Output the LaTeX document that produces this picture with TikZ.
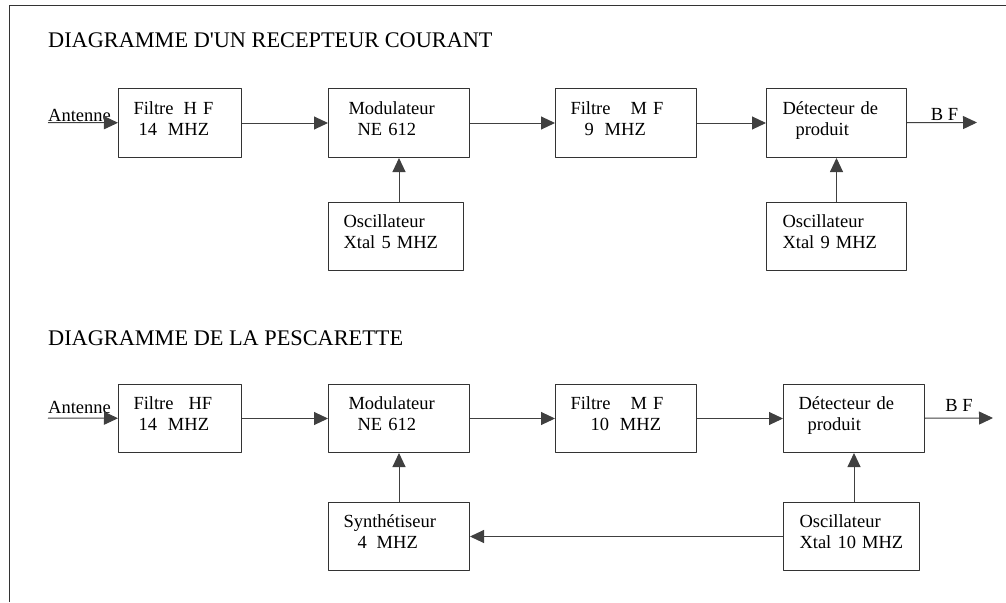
\documentclass[tikz,border=0pt]{standalone}
\usepackage{fontspec}
\setmainfont{Liberation Serif}
\usetikzlibrary{arrows.meta}
\tikzset{
  bloc/.style={draw=black!80, line width=1pt, anchor=north west, inner xsep=15pt, inner ysep=2pt, text depth=30pt, align=left, font=\fontsize{18.5}{21}\selectfont},
  fleche/.style={draw=black!75, line width=1pt, -{Triangle[length=14pt,width=13pt]}},
  titre/.style={anchor=base west, inner sep=0pt, font=\fontsize{22.3}{26}\selectfont},
  etiq/.style={inner sep=0pt, font=\fontsize{18.5}{21}\selectfont},
}
\begin{document}
\begin{tikzpicture}[x=1pt, y=-1pt, line join=round]
	\useasboundingbox (0,0) rectangle (1006,602);
	\draw[black!80, line width=1pt] (9,602) -- (9,6) -- (1006,6);
	% titres
	\node[titre] (titreA) at (48,48) {DIAGRAMME D\textquotesingle UN RECEPTEUR COURANT};
	\node[titre] (titreB) at (48,345) {DIAGRAMME DE LA PESCARETTE};
	% recepteur courant
	\node[bloc, minimum height=69pt, text width=93pt] (hfA) at (118,88) {Filtre\hspace{10pt}H F\\\hspace*{5pt}14\hspace{11pt}MHZ};
	\node[bloc, minimum height=69pt, text width=111pt] (modA) at (328,88) {\hspace*{5pt}Modulateur\\\hspace*{14pt}NE 612};
	\node[bloc, minimum height=69pt, text width=111pt] (mfA) at (555,88) {Filtre\hspace{20pt}M F\\\hspace*{14pt}9\hspace{11pt}MHZ};
	\node[bloc, minimum height=69pt, text width=110pt] (detA) at (766,88) {\hspace*{1pt}Détecteur de\\\hspace*{14pt}produit};
	\node[bloc, minimum height=68pt, text width=105pt] (oscA) at (328,202) {Oscillateur\\Xtal 5 MHZ};
	\node[bloc, minimum height=68pt, text width=110pt] (osc9A) at (766,202) {\hspace*{1pt}Oscillateur\\\hspace*{1pt}Xtal 9 MHZ};
	\coordinate (antA) at (48,122.5);
	\coordinate (bfA) at (977,122.5);
	\node[etiq, anchor=base west, yshift=1pt] (antenneA) at (antA) {Antenne};
	\draw[fleche] (antA) -- (hfA);
	\draw[fleche] (hfA) -- (modA);
	\draw[fleche] (modA) -- (mfA);
	\draw[fleche] (mfA) -- (detA);
	\draw[fleche] (detA) -- (bfA) node[etiq, pos=0.535, above=2pt] (bfTxtA) {B F};
	\draw[fleche] (oscA.north -| modA.south) -- (modA.south);
	\draw[fleche] (osc9A.north -| detA.south) -- (detA.south);
	% pescarette
	\node[bloc, minimum height=68pt, text width=93pt] (hfB) at (118,384) {Filtre\hspace{15pt}HF\\\hspace*{5pt}14\hspace{11pt}MHZ};
	\node[bloc, minimum height=68pt, text width=111pt] (modB) at (328,384) {\hspace*{5pt}Modulateur\\\hspace*{14pt}NE 612};
	\node[bloc, minimum height=68pt, text width=111pt] (mfB) at (555,384) {Filtre\hspace{20pt}M F\\\hspace*{20pt}10\hspace{11pt}MHZ};
	\node[bloc, minimum height=68pt, text width=111pt] (detB) at (783,384) {Détecteur de\\\hspace*{9pt}produit};
	\node[bloc, minimum height=68pt, text width=111pt] (synB) at (328,502) {Synthétiseur\\\hspace*{14pt}4\hspace{10pt}MHZ};
	\node[bloc, minimum height=68pt, text width=106pt] (oscB) at (783,502) {\hspace*{1pt}Oscillateur\\\hspace*{1pt}Xtal 10 MHZ};
	\coordinate (antB) at (48,418);
	\coordinate (bfB) at (993,418);
	\node[etiq, anchor=base west, yshift=5pt] (antenneB) at (antB) {Antenne};
	\draw[fleche] (antB) -- (hfB);
	\draw[fleche] (hfB) -- (modB);
	\draw[fleche] (modB) -- (mfB);
	\draw[fleche] (mfB) -- (detB);
	\draw[fleche] (detB) -- (bfB) node[etiq, pos=0.5, above=6pt] (bfTxtB) {B F};
	\draw[fleche] (synB.north -| modB.south) -- (modB.south);
	\draw[fleche] (oscB.north -| detB.south) -- (detB.south);
	\draw[fleche] (oscB.west) -- (synB.east);
\end{tikzpicture}
\end{document}
